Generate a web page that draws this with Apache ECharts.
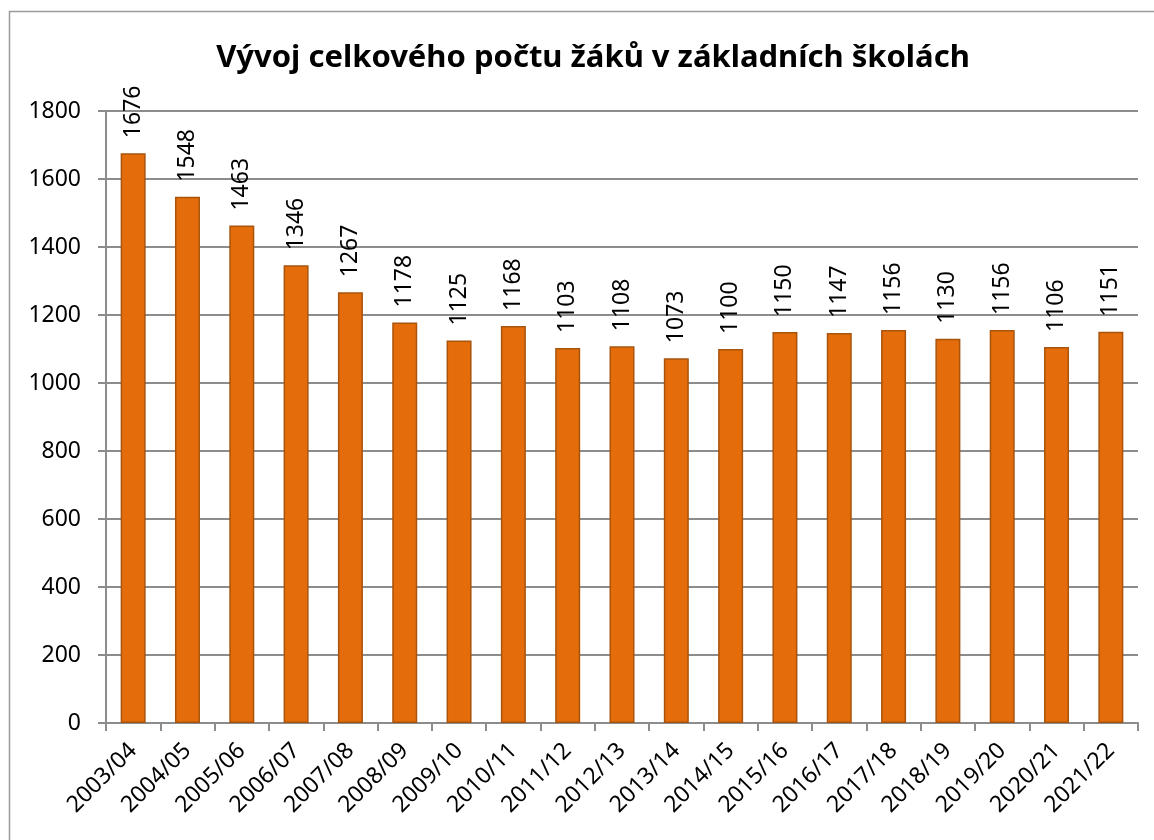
<!DOCTYPE html>
<html>
<head>
<meta charset="utf-8">
<script src="https://cdn.jsdelivr.net/npm/echarts@6/dist/echarts.min.js"></script>
<style>
  html, body { margin: 0; padding: 0; background: #fff; }
  #chart { width: 1154px; height: 840px; }
</style>
</head>
<body>
<div id="chart"></div>
<script>
// školní roky
const years = ['2003/04', '2004/05', '2005/06', '2006/07', '2007/08', '2008/09', '2009/10',
    '2010/11', '2011/12', '2012/13', '2013/14', '2014/15', '2015/16', '2016/17', '2017/18',
    '2018/19', '2019/20', '2020/21', '2021/22']
// počet žáků
const pupils = [1676, 1548, 1463, 1346, 1267, 1178, 1125, 1168, 1103, 1108, 1073, 1100,
    1150, 1147, 1156, 1130, 1156, 1106, 1151]

const font = 'Noto Sans'
const gridColor = '#8c8c8c'

const chart = echarts.init(document.getElementById('chart'))
const option = {
    backgroundColor: '#fff',
    animation: false,
    title: {
        text: 'Vývoj celkového počtu žáků v základních školách',
        left: 588,
        top: 38,
        textAlign: 'center',
        textStyle: {
            fontFamily: font,
            fontWeight: 'bold',
            fontSize: 31,
            color: '#000'
        }
    },
    graphic: [{
        type: 'rect',
        shape: { x: 9.5, y: 11.5, width: 1200, height: 900 },
        style: { fill: 'none', stroke: '#9a9a9a', lineWidth: 1.5 },
        silent: true
    }],
    grid: {
        left: 106,
        right: 16,
        top: 111,
        bottom: 117
    },
    xAxis: {
        type: 'category',
        data: years,
        axisLine: { lineStyle: { color: gridColor, width: 2 } },
        axisTick: { show: true, length: 8, lineStyle: { color: gridColor, width: 2 } },
        axisLabel: {
            rotate: 45,
            interval: 0,
            margin: 24,
            fontFamily: font,
            fontSize: 23,
            color: '#000'
        }
    },
    yAxis: {
        type: 'value',
        min: 0,
        max: 1800,
        interval: 200,
        axisLine: { show: true, lineStyle: { color: gridColor, width: 2 } },
        axisTick: { show: true, length: 8, lineStyle: { color: gridColor, width: 2 } },
        axisLabel: {
            margin: 25,
            fontFamily: font,
            fontSize: 23,
            color: '#000',
            formatter: (v) => String(v)
        },
        splitLine: { lineStyle: { color: gridColor, width: 2 } }
    },
    series: [{
        name: 'Počet žáků',
        type: 'bar',
        data: pupils,
        barWidth: 25,
        itemStyle: {
            color: '#e46c0a',
            borderColor: '#a9540c',
            borderWidth: 1.5
        },
        label: {
            show: true,
            position: 'top',
            rotate: 90,
            align: 'left',
            verticalAlign: 'middle',
            distance: 15,
            fontFamily: font,
            fontSize: 23,
            color: '#000'
        }
    }]
}
chart.setOption(option)
</script>
</body>
</html>
